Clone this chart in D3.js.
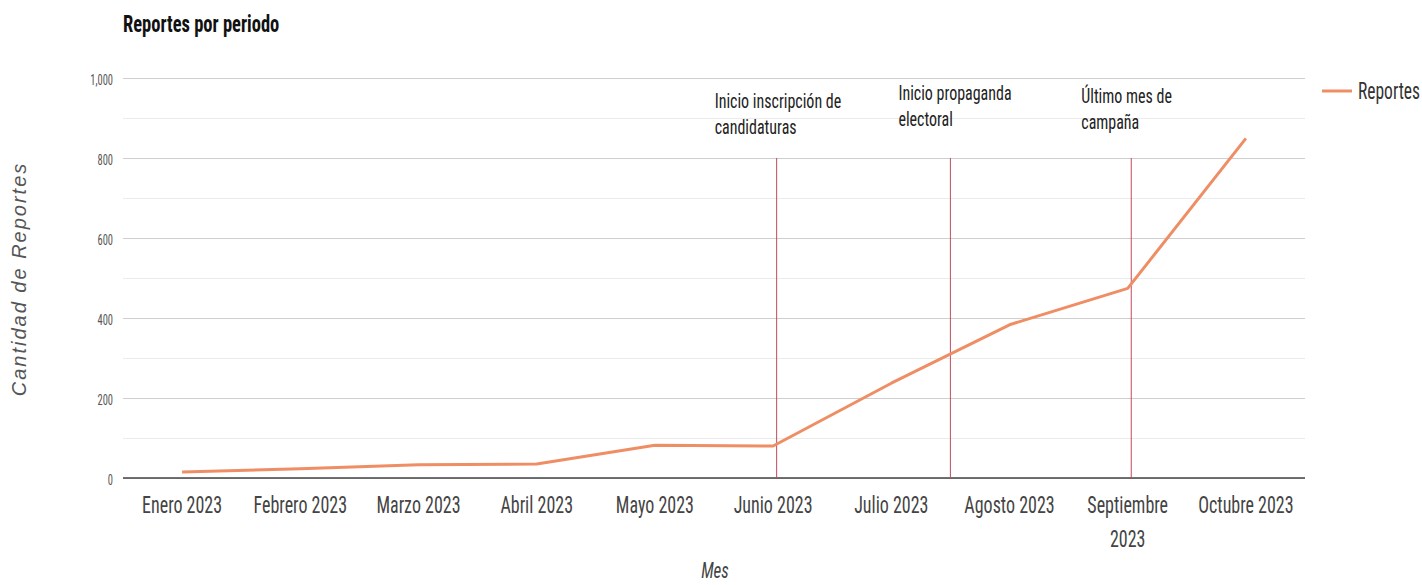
<!DOCTYPE html>
<html>
<head>
<meta charset="utf-8">
<script src="https://cdn.jsdelivr.net/npm/d3@7"></script>
<style>
  body { margin: 0; background: #fff; }
  svg text { font-family: "Liberation Sans Narrow", "Arial Narrow", "Roboto Condensed", sans-serif; }
  .grid line { shape-rendering: crispEdges; }
</style>
</head>
<body>
<div id="chart"></div>
<script>
// months on the x axis
var categories = ["Enero 2023", "Febrero 2023", "Marzo 2023", "Abril 2023", "Mayo 2023",
                  "Junio 2023", "Julio 2023", "Agosto 2023", "Septiembre 2023", "Octubre 2023"];

// reports per month
var reportes = [15, 23, 33, 35, 82, 80, 237, 383, 474, 849];

// y axis ticks
var yTicks = [0, 200, 400, 600, 800, 1000];
var yMinorTicks = [100, 300, 500, 700, 900];

// vertical event markers: position in month index, label lines
var markerPos = [5.03, 6.5, 8.03];
var markerLabels = [["Inicio inscripción de", "candidaturas"],
                    ["Inicio propaganda", "electoral"],
                    ["Último mes de", "campaña"]];
var markerTop = 800;

plot_chart("#chart", 1422, 585);

function plot_chart(htmlObjectId, width, height) {

    var plot = {left: 123, right: 1305, top: 78, bottom: 478};
    // the source picture is stretched vertically, so text glyphs are taller than wide
    var K = 1.32;
    function tall(x, y) { return "translate(" + x + "," + y + ") scale(1," + K + ")"; }

    var svg = d3.select(htmlObjectId)
                .append("svg")
                .attr("width", width)
                .attr("height", height);

    var xScale = d3.scaleBand()
                   .domain(categories)
                   .range([plot.left, plot.right])
                   .padding(0);

    var yScale = d3.scaleLinear()
                   .domain([0, 1000])
                   .range([plot.bottom, plot.top]);

    // centre of a (possibly fractional) month index
    function xPos(i) {
        var k = Math.floor(i);
        return xScale(categories[k]) + xScale.bandwidth() / 2 + (i - k) * xScale.step();
    }

    // minor gridlines
    svg.append("g")
        .attr("class", "grid")
        .selectAll("line")
        .data(yMinorTicks)
      .enter().append("line")
        .attr("x1", plot.left).attr("x2", plot.right)
        .attr("y1", function(d) { return yScale(d); })
        .attr("y2", function(d) { return yScale(d); })
        .attr("stroke", "#ebebeb");

    // major gridlines + labels
    var yaxis = d3.axisLeft(yScale)
                  .tickValues(yTicks)
                  .tickSize(-(plot.right - plot.left))
                  .tickFormat(d3.format(","));

    var gy = svg.append("g")
        .attr("class", "grid")
        .attr("transform", "translate(" + plot.left + ",0)")
        .call(yaxis);
    gy.select(".domain").remove();
    gy.selectAll("line").attr("stroke", "#cfcfcf");
    gy.selectAll("text")
        .attr("x", 0).attr("y", 0).attr("dy", null)
        .attr("transform", tall(-10, 6))
        .attr("fill", "#555")
        .style("font-size", "10.5px");

    // baseline
    svg.append("line")
        .attr("x1", plot.left).attr("x2", plot.right)
        .attr("y1", yScale(0)).attr("y2", yScale(0))
        .attr("stroke", "#444")
        .attr("stroke-width", 1.5);

    // x axis labels
    var xaxis = d3.axisBottom(xScale).tickSize(0);
    var gx = svg.append("g")
        .attr("transform", "translate(0," + plot.bottom + ")")
        .call(xaxis);
    gx.select(".domain").remove();
    gx.selectAll("text")
        .attr("y", 0).attr("dy", null)
        .attr("transform", tall(0, 35))
        .attr("fill", "#444")
        .style("font-size", "18px")
        .each(function(d) {
            var t = d3.select(this);
            if (d === "Septiembre 2023") {
                t.text(null);
                t.append("tspan").attr("x", 0).attr("y", 0).text("Septiembre");
                t.append("tspan").attr("x", 0).attr("dy", 34 / K).text("2023");
            }
        });

    // event markers
    svg.selectAll(".marker")
        .data(markerPos)
      .enter().append("line")
        .attr("class", "marker")
        .attr("x1", function(d) { return xPos(d); })
        .attr("x2", function(d) { return xPos(d); })
        .attr("y1", yScale(markerTop))
        .attr("y2", yScale(0))
        .attr("stroke", "#c24a5a")
        .attr("stroke-width", 1);

    var labelOffsets = [{dx: -62, y: 108}, {dx: -52, y: 100}, {dx: -50, y: 103}];
    markerLabels.forEach(function(lines, i) {
        var t = svg.append("text")
            .attr("transform", tall(xPos(markerPos[i]) + labelOffsets[i].dx, labelOffsets[i].y))
            .attr("fill", "#222")
            .style("font-size", "16px");
        lines.forEach(function(s, j) {
            t.append("tspan")
                .attr("x", 0)
                .attr("dy", j === 0 ? 0 : 26 / K)
                .text(s);
        });
    });

    // the line
    var line = d3.line()
        .x(function(d, i) { return xPos(i); })
        .y(function(d) { return yScale(d); });

    svg.append("path")
        .datum(reportes)
        .attr("fill", "none")
        .attr("stroke", "#ef8e65")
        .attr("stroke-width", 3)
        .attr("stroke-linejoin", "round")
        .attr("d", line);

    // title
    svg.append("text")
        .attr("transform", tall(plot.left, 32))
        .attr("fill", "#111")
        .style("font-size", "18.5px")
        .style("font-weight", "bold")
        .text("Reportes por periodo");

    // axis titles
    svg.append("text")
        .attr("transform", "translate(26,279) rotate(-90)")
        .attr("text-anchor", "middle")
        .attr("fill", "#555")
        .style("font-family", "'Liberation Sans', Arial, sans-serif")
        .style("font-style", "italic")
        .style("font-size", "20px")
        .style("letter-spacing", "2px")
        .text("Cantidad de Reportes");

    svg.append("text")
        .attr("transform", tall(715, 578))
        .attr("text-anchor", "middle")
        .attr("fill", "#444")
        .style("font-style", "italic")
        .style("font-size", "17px")
        .text("Mes");

    // legend
    svg.append("line")
        .attr("x1", 1322).attr("x2", 1352)
        .attr("y1", 91).attr("y2", 91)
        .attr("stroke", "#ef8e65")
        .attr("stroke-width", 3);
    svg.append("text")
        .attr("transform", tall(1358, 99))
        .attr("fill", "#333")
        .style("font-size", "17.5px")
        .text("Reportes");
}
</script>
</body>
</html>
